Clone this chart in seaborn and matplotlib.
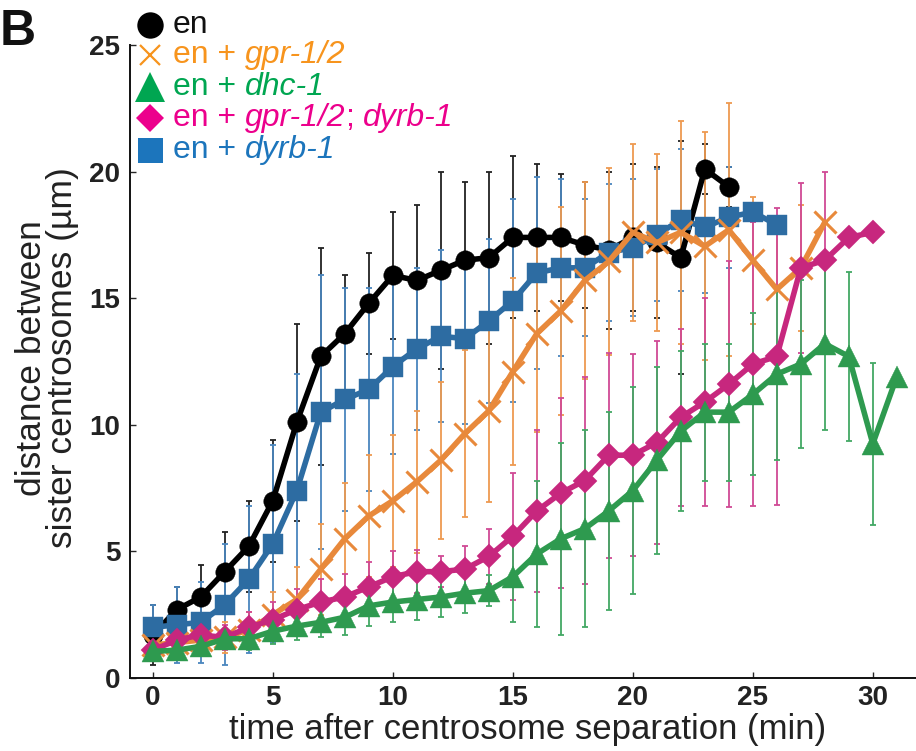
import numpy as np
import matplotlib
matplotlib.use("Agg")
import matplotlib.pyplot as plt
import seaborn as sns

# time after centrosome separation (min)
t_en = list(range(0, 25))
t_gpr = list(range(0, 29))
t_dhc = list(range(0, 32))
t_gpr_dyrb = list(range(0, 31))
t_dyrb = list(range(0, 27))

# mean distance between sister centrosomes (um) and error bars
en = [1.7, 2.7, 3.2, 4.2, 5.2, 7.0, 10.1, 12.7, 13.6, 14.8, 15.9, 15.7, 16.1,
      16.5, 16.6, 17.4, 17.4, 17.4, 17.1, 16.9, 17.4, 17.2, 16.6, 20.1, 19.4]
en_sd = [1.2, 0.9, 1.25, 1.55, 1.8, 2.4, 3.9, 4.3, 2.3, 2.0, 2.5, 3.0, 3.9,
         3.1, 3.4, 3.2, 2.9, 2.5, 2.5, 3.1, 2.9, 3.0, 4.6, 1.0, 0.8]

gpr = [1.3, 1.4, 1.5, 1.6, 1.9, 2.5, 3.1, 4.3, 5.5, 6.4, 7.0, 7.75, 8.6, 9.65,
       10.55, 12.1, 13.6, 14.5, 15.7, 16.45, 17.6, 17.2, 17.6, 17.05, 17.7,
       16.5, 15.35, 16.2, 18.0]
gpr_sd = [0.4, 0.5, 0.5, 0.6, 0.7, 0.9, 1.3, 1.8, 2.2, 2.4, 2.6, 2.8, 3.1, 3.3,
          3.6, 3.7, 3.9, 4.1, 3.9, 3.7, 3.5, 3.5, 4.4, 4.5, 5.0, 2.5, 2.5, 2.5, 0.0]

dhc = [1.05, 1.1, 1.25, 1.55, 1.55, 1.85, 2.05, 2.2, 2.4, 2.85, 3.0, 3.1, 3.2,
       3.35, 3.45, 4.0, 4.9, 5.5, 5.9, 6.6, 7.4, 8.6, 9.75, 10.5, 10.5, 11.2,
       12.0, 12.4, 13.2, 12.7, 9.25, 11.9]
dhc_sd = [0.3, 0.3, 0.35, 0.4, 0.45, 0.5, 0.55, 0.6, 0.7, 0.8, 0.8, 0.8, 0.8,
          0.8, 0.6, 1.8, 2.9, 3.8, 3.9, 3.9, 4.1, 3.7, 3.15, 2.7, 2.7, 3.2,
          3.4, 3.3, 3.4, 3.35, 3.2, 0.0]

gpr_dyrb = [1.1, 1.5, 1.7, 1.6, 2.0, 2.3, 2.7, 3.0, 3.2, 3.6, 4.0, 4.2, 4.2,
            4.3, 4.8, 5.6, 6.6, 7.3, 7.8, 8.8, 8.8, 9.3, 10.3, 10.9, 11.6,
            12.4, 12.7, 16.2, 16.5, 17.4, 17.6]
gpr_dyrb_sd = [0.3, 0.5, 0.6, 0.5, 0.6, 0.7, 0.8, 0.9, 0.9, 1.0, 1.0, 0.85,
               0.6, 0.9, 1.1, 2.5, 3.2, 3.75, 4.1, 4.05, 4.0, 4.0, 3.5, 4.1,
               4.85, 5.6, 5.85, 3.35, 3.5, 0.0, 0.0]

dyrb = [2.0, 2.1, 2.2, 2.9, 3.9, 5.3, 7.4, 10.5, 11.0, 11.4, 12.3, 13.0, 13.5,
        13.4, 14.1, 14.9, 16.0, 16.2, 16.2, 16.8, 17.0, 17.5, 18.1, 17.8, 18.2,
        18.4, 17.9]
dyrb_sd = [0.9, 1.5, 1.6, 2.4, 2.9, 3.9, 4.6, 5.4, 4.4, 4.0, 3.45, 3.2, 3.4,
           3.35, 3.25, 4.0, 3.8, 3.5, 2.7, 2.7, 2.7, 2.6, 2.8, 2.6, 2.0, 0.0, 0.0]

sns.set_style("ticks")
plt.rcParams["font.family"] = ["Liberation Sans", "DejaVu Sans"]

fig = plt.figure(figsize=(9.16, 7.51), dpi=100)
ax = fig.add_axes([130 / 916, 73 / 751, 786 / 916, 633 / 751])

# (times, values, sd, line colour, errorbar colour, marker, size, zorder)
series = [
    (t_en, en, en_sd, "#000000", "#222222", "o", 14, 2),
    (t_dyrb, dyrb, dyrb_sd, "#2D6CA2", "#4A86BE", "s", 15, 3),
    (t_gpr, gpr, gpr_sd, "#E8893B", "#EE9A50", "x", 16, 4),
    (t_gpr_dyrb, gpr_dyrb, gpr_dyrb_sd, "#C7277E", "#D04A95", "D", 12.5, 5),
    (t_dhc, dhc, dhc_sd, "#2E9A4F", "#43A865", "^", 16, 6),
]

for t, y, sd, c, ec, m, ms, z in series:
    ax.errorbar(t, y, yerr=sd, fmt="none", ecolor=ec, elinewidth=1.3,
                capsize=2.5, capthick=1.3, zorder=1)
for t, y, sd, c, ec, m, ms, z in series:
    mew = 2.2 if m == "x" else 0.3
    sns.lineplot(x=t, y=y, ax=ax, color=c, marker=m, markersize=ms,
                 markeredgecolor=c, markeredgewidth=mew, linewidth=4.0,
                 zorder=z, clip_on=False)

ax.set_xlim(-0.95, 31.8)
ax.set_ylim(0, 25)
ax.set_xticks([0, 5, 10, 15, 20, 25, 30])
ax.set_yticks([0, 5, 10, 15, 20, 25])
ax.tick_params(direction="in", length=4, width=1, pad=7)
ax.tick_params(axis="x", pad=5)
for lab in ax.get_xticklabels() + ax.get_yticklabels():
    lab.set_fontweight("bold")
    lab.set_fontsize(20)
    lab.set_color("#222222")
for s in ["top", "right"]:
    ax.spines[s].set_visible(False)
for s in ["left", "bottom"]:
    ax.spines[s].set_linewidth(1.4)
    ax.spines[s].set_color("#111111")

fig.text(528 / 916, 1 - 730 / 751, "time after centrosome separation (min)",
         fontsize=25, color="#222222", ha="center", va="center")
fig.text(47 / 916, 1 - 358 / 751, "distance between\nsister centrosomes (µm)",
         fontsize=25.5, color="#222222", ha="center", va="center", rotation=90,
         multialignment="center", linespacing=0.92)

fig.text(0.0, 0.988, "B", fontsize=36, fontweight="bold", va="top", ha="left",
         color="#111111")

# legend drawn by hand so that gene names can be italic and coloured
legend_rows = [
    ("o", "#000000", "#111111", 19, [("en", "normal")]),
    ("x", "#F7941D", "#F7941D", 15, [("en + ", "normal"), ("gpr-1/2", "italic")]),
    ("^", "#00A651", "#00A651", 21, [("en + ", "normal"), ("dhc-1", "italic")]),
    ("D", "#EC008C", "#EC008C", 14.5, [("en + ", "normal"), ("gpr-1/2", "italic"),
                                       ("; ", "normal"), ("dyrb-1", "italic")]),
    ("s", "#1C75BC", "#1C75BC", 18, [("en + ", "normal"), ("dyrb-1", "italic")]),
]
row_y = [25, 55, 87, 118, 150]
for (m, mc, tc, ms, parts), py in zip(legend_rows, row_y):
    yf = 1 - py / 751
    ax.plot([150 / 916], [yf], transform=fig.transFigure, marker=m, color=mc,
            markersize=ms, markeredgewidth=1.6 if m == "x" else 0, clip_on=False,
            linestyle="none")
    txt = fig.text(173 / 916, yf, parts[0][0], fontsize=23, color=tc,
                   style=parts[0][1], va="center", ha="left")
    for s, st in parts[1:]:
        txt = ax.annotate(s, xy=(1, 0), xycoords=txt, va="bottom", ha="left",
                          fontsize=23, color=tc, style=st, annotation_clip=False)

fig.savefig("out.png", dpi=100)
